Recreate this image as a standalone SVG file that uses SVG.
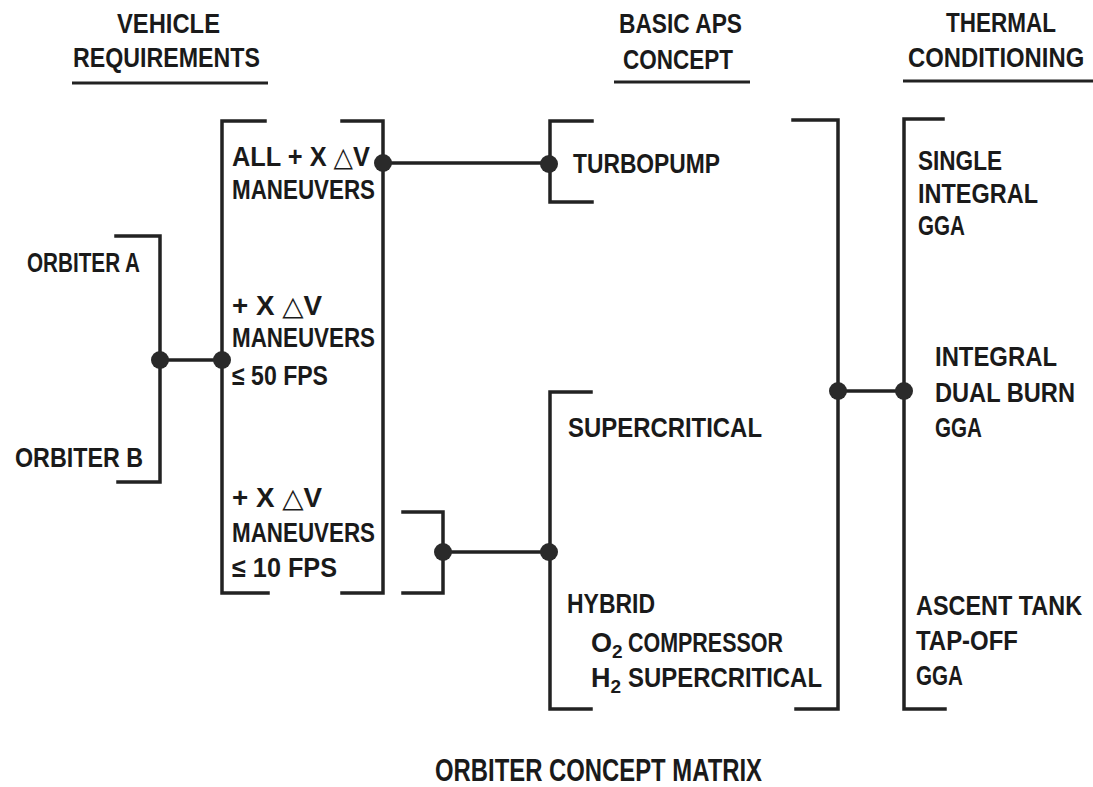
<svg xmlns="http://www.w3.org/2000/svg" width="1093" height="787" viewBox="0 0 1093 787">
<style>
text{font-family:"Liberation Sans","DejaVu Sans",sans-serif;font-weight:bold;font-size:27px;fill:#1a1a1a}
.ttl{font-size:31px}
.ln{fill:none;stroke:#222;stroke-width:3.5;stroke-linecap:square}
.ul{fill:none;stroke:#222;stroke-width:3}
.dot{fill:#2a2a2a}
.sub{font-size:19px}
</style>
<rect width="1093" height="787" fill="#fff"/>
<g id="headers">
<text x="117" y="33" textLength="103" lengthAdjust="spacingAndGlyphs">VEHICLE</text>
<text x="73" y="67" textLength="187" lengthAdjust="spacingAndGlyphs">REQUIREMENTS</text>
<line class="ul" x1="72" y1="83" x2="268" y2="83"/>
<text x="619" y="33" textLength="123" lengthAdjust="spacingAndGlyphs">BASIC APS</text>
<text x="623" y="69" textLength="110" lengthAdjust="spacingAndGlyphs">CONCEPT</text>
<line class="ul" x1="614" y1="82" x2="750" y2="82"/>
<text x="946" y="32" textLength="110" lengthAdjust="spacingAndGlyphs">THERMAL</text>
<text transform="translate(908,67) scale(0.884,1)" x="0" y="0">CONDITIONING</text>
<line class="ul" x1="903" y1="81" x2="1093" y2="81"/>
</g>
<g id="orbiter-a"><text x="27" y="272" textLength="113" lengthAdjust="spacingAndGlyphs">ORBITER A</text></g>
<g id="orbiter-b"><text x="15" y="467" textLength="128" lengthAdjust="spacingAndGlyphs">ORBITER B</text></g>
<g id="req-all">
<text x="232" y="166" textLength="138" lengthAdjust="spacingAndGlyphs">ALL + X △V</text>
<text x="232" y="199" textLength="143" lengthAdjust="spacingAndGlyphs">MANEUVERS</text>
</g>
<g id="req-50">
<text x="232" y="315" textLength="90" lengthAdjust="spacingAndGlyphs">+ X △V</text>
<text x="232" y="347" textLength="143" lengthAdjust="spacingAndGlyphs">MANEUVERS</text>
<text x="232" y="385" textLength="96" lengthAdjust="spacingAndGlyphs">≤ 50 FPS</text>
</g>
<g id="req-10">
<text x="232" y="507" textLength="90" lengthAdjust="spacingAndGlyphs">+ X △V</text>
<text x="232" y="542" textLength="143" lengthAdjust="spacingAndGlyphs">MANEUVERS</text>
<text x="232" y="577" textLength="105" lengthAdjust="spacingAndGlyphs">≤ 10 FPS</text>
</g>
<g id="turbopump"><text x="573" y="173" textLength="147" lengthAdjust="spacingAndGlyphs">TURBOPUMP</text></g>
<g id="supercritical"><text x="568" y="437" textLength="194" lengthAdjust="spacingAndGlyphs">SUPERCRITICAL</text></g>
<g id="hybrid">
<text x="567" y="613" textLength="88" lengthAdjust="spacingAndGlyphs">HYBRID</text>
<text x="591" y="652">O<tspan class="sub" dy="6">2</tspan></text>
<text x="628" y="652" textLength="155" lengthAdjust="spacingAndGlyphs">COMPRESSOR</text>
<text x="591" y="687">H<tspan class="sub" dy="6">2</tspan></text>
<text x="628" y="687" textLength="194" lengthAdjust="spacingAndGlyphs">SUPERCRITICAL</text>
</g>
<g id="single-gga">
<text x="918" y="170" textLength="84" lengthAdjust="spacingAndGlyphs">SINGLE</text>
<text x="918" y="203" textLength="120" lengthAdjust="spacingAndGlyphs">INTEGRAL</text>
<text x="918" y="235" textLength="47" lengthAdjust="spacingAndGlyphs">GGA</text>
</g>
<g id="dual-gga">
<text x="935" y="366" textLength="122" lengthAdjust="spacingAndGlyphs">INTEGRAL</text>
<text x="935" y="402" textLength="140" lengthAdjust="spacingAndGlyphs">DUAL BURN</text>
<text x="935" y="437" textLength="47" lengthAdjust="spacingAndGlyphs">GGA</text>
</g>
<g id="tapoff-gga">
<text transform="translate(916,615) scale(0.868,1)" x="0" y="0">ASCENT TANK</text>
<text x="916" y="650" textLength="102" lengthAdjust="spacingAndGlyphs">TAP-OFF</text>
<text x="916" y="685" textLength="47" lengthAdjust="spacingAndGlyphs">GGA</text>
</g>
<g id="connectors">
<path class="ln" d="M116,236 H160 V482 H118"/>
<path class="ln" d="M160,360 H222"/>
<path class="ln" d="M265,121 H222 V593 H268"/>
<path class="ln" d="M342,121 H383 V593 H342"/>
<path class="ln" d="M383,163 H549"/>
<path class="ln" d="M592,121 H550 V202 H592"/>
<path class="ln" d="M403,512 H443 V593 H403"/>
<path class="ln" d="M443,552 H549"/>
<path class="ln" d="M591,392 H550 V709 H591"/>
<path class="ln" d="M793,120 H838 V709 H796"/>
<path class="ln" d="M838,391 H904"/>
<path class="ln" d="M943,119 H904 V709 H945"/>
<circle class="dot" cx="160" cy="360" r="9"/>
<circle class="dot" cx="222" cy="360" r="9"/>
<circle class="dot" cx="383" cy="163" r="9"/>
<circle class="dot" cx="549" cy="164" r="9"/>
<circle class="dot" cx="443" cy="552" r="9"/>
<circle class="dot" cx="549" cy="552" r="9"/>
<circle class="dot" cx="838" cy="391" r="9"/>
<circle class="dot" cx="904" cy="391" r="9"/>
</g>
<g id="title"><text class="ttl" x="435" y="781" textLength="327" lengthAdjust="spacingAndGlyphs">ORBITER CONCEPT MATRIX</text></g>
</svg>
